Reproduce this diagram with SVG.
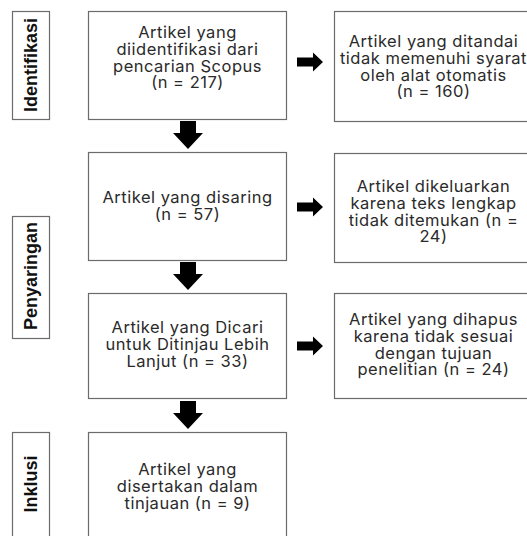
<svg xmlns="http://www.w3.org/2000/svg" width="527" height="536" viewBox="0 0 527 536">
<defs>
<style>
.box{fill:#fff;stroke:#6b6b6b;stroke-width:1.2}
.t{font-family:Inter,"Liberation Sans",sans-serif;font-size:16.5px;letter-spacing:0.5px;fill:#2a2a2a;text-anchor:middle}
.lab{font-family:"Liberation Sans",Arial,sans-serif;font-size:18px;font-weight:bold;fill:#111;text-anchor:middle}
.arr{fill:#000}
</style>
<path id="down" d="M-8,0 H8 V12 H15 L0,28 L-15,12 H-8 Z"/>
<path id="right" d="M0,-4.5 H16 V-9.5 L26,0 L16,9.5 V4.5 H0 Z"/>
</defs>
<rect width="527" height="536" fill="#fff"/>
<g id="label-identifikasi">
<rect class="box" x="12.5" y="11.5" width="37" height="108"/>
<text class="lab" transform="translate(37,65) rotate(-90)">Identifikasi</text>
</g>
<g id="label-penyaringan">
<rect class="box" x="12.5" y="216.5" width="37" height="122"/>
<text class="lab" transform="translate(37,276) rotate(-90)">Penyaringan</text>
</g>
<g id="label-inklusi">
<rect class="box" x="12.5" y="432.5" width="37" height="110"/>
<text class="lab" transform="translate(37,484) rotate(-90)">Inklusi</text>
</g>
<g id="n1">
<rect class="box" x="88.5" y="11.5" width="198" height="108"/>
<text class="t" x="187.5" y="38">Artikel yang<tspan x="187.5" dy="16.8">diidentifikasi dari</tspan><tspan x="187.5" dy="16.8">pencarian Scopus</tspan><tspan x="187.5" dy="16.8">(n = 217)</tspan></text>
</g>
<g id="n2">
<rect class="box" x="88.5" y="152.5" width="198" height="108"/>
<text class="t" x="187.5" y="203">Artikel yang disaring<tspan x="187.5" dy="16.8">(n = 57)</tspan></text>
</g>
<g id="n3">
<rect class="box" x="88.5" y="293.5" width="198" height="105"/>
<text class="t" x="187.5" y="333">Artikel yang Dicari<tspan x="187.5" dy="16.8">untuk Ditinjau Lebih</tspan><tspan x="187.5" dy="16.8">Lanjut (n = 33)</tspan></text>
</g>
<g id="n4">
<rect class="box" x="88.5" y="432.5" width="198" height="110"/>
<text class="t" x="187.5" y="475">Artikel yang<tspan x="187.5" dy="16.8">disertakan dalam</tspan><tspan x="187.5" dy="16.8">tinjauan (n = 9)</tspan></text>
</g>
<g id="r1">
<rect class="box" x="334.5" y="11.5" width="198" height="110"/>
<text class="t" x="433.5" y="47">Artikel yang ditandai<tspan x="433.5" dy="16.8">tidak memenuhi syarat</tspan><tspan x="433.5" dy="16.8">oleh alat otomatis</tspan><tspan x="433.5" dy="16.8">(n = 160)</tspan></text>
</g>
<g id="r2">
<rect class="box" x="334.5" y="153.5" width="198" height="109"/>
<text class="t" x="433.5" y="192">Artikel dikeluarkan<tspan x="433.5" dy="16.8">karena teks lengkap</tspan><tspan x="433.5" dy="16.8">tidak ditemukan (n =</tspan><tspan x="433.5" dy="16.8">24)</tspan></text>
</g>
<g id="r3">
<rect class="box" x="334.5" y="293.5" width="198" height="105"/>
<text class="t" x="433.5" y="325">Artikel yang dihapus<tspan x="433.5" dy="16.8">karena tidak sesuai</tspan><tspan x="433.5" dy="16.8">dengan tujuan</tspan><tspan x="433.5" dy="16.8">penelitian (n = 24)</tspan></text>
</g>
<g id="connectors" class="arr">
<use href="#down" x="188" y="121"/>
<use href="#down" x="188" y="262"/>
<use href="#down" x="188" y="401"/>
<use href="#right" x="297" y="62"/>
<use href="#right" x="297" y="207"/>
<use href="#right" x="297" y="346"/>
</g>
</svg>
